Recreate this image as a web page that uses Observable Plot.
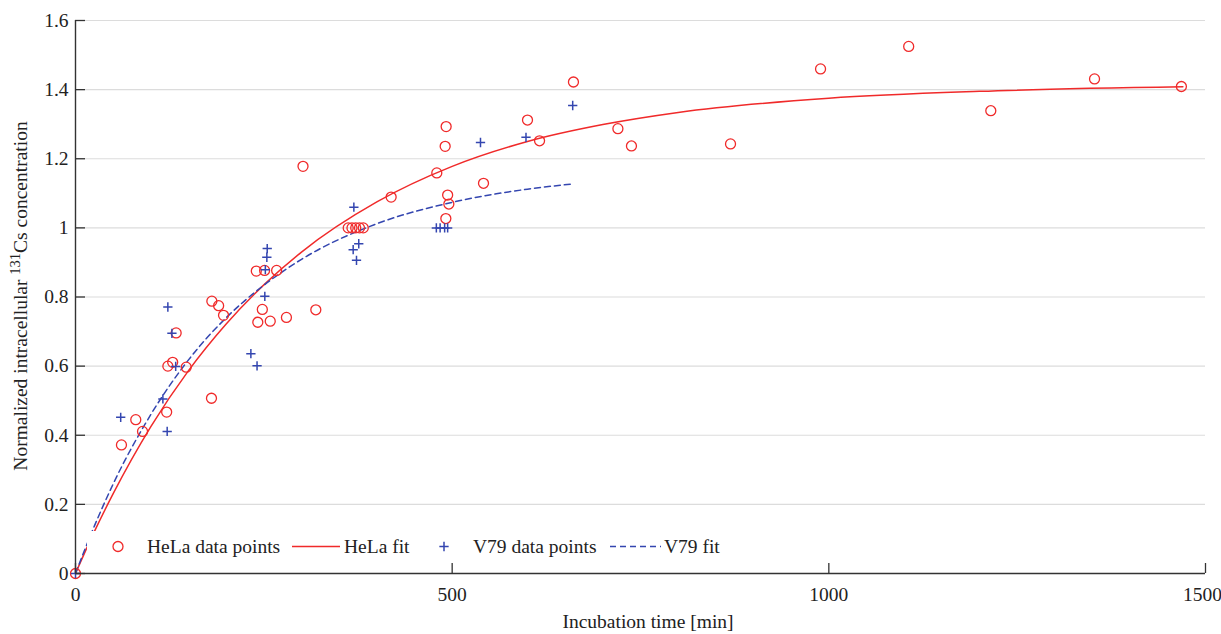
<!DOCTYPE html>
<html>
<head>
<meta charset="utf-8">
<script src="https://cdn.jsdelivr.net/npm/d3@7"></script>
<script src="https://cdn.jsdelivr.net/npm/@observablehq/plot@0.6"></script>
<style>
  html, body { margin: 0; padding: 0; background: #fff; }
  #wrap { position: relative; width: 1221px; height: 634px; font-family: "Liberation Serif", "Times New Roman", serif; }
  #legend { position: absolute; left: 87px; top: 531px; width: 643px; height: 31px; background: #fff; }
</style>
</head>
<body>
<div id="wrap"></div>
<script>
// ---- data ----
const helaTime = [0, 61, 80, 89, 121, 122.6, 129, 133.6, 147, 180.5, 181, 190, 196.5, 240, 242, 248, 251, 258.5, 267, 280, 302, 319, 362, 367, 372, 377, 382, 419, 479.6, 490.7, 491.6, 492, 494, 495.6, 541.6, 600, 616, 661, 720, 738, 869.5, 989, 1106, 1215, 1352.7, 1468];
const helaValue = [0, 0.372, 0.445, 0.411, 0.467, 0.600, 0.611, 0.696, 0.597, 0.507, 0.788, 0.775, 0.747, 0.875, 0.727, 0.764, 0.877, 0.730, 0.877, 0.741, 1.178, 0.763, 1, 1, 1, 1, 1, 1.089, 1.159, 1.236, 1.027, 1.293, 1.095, 1.069, 1.129, 1.312, 1.252, 1.422, 1.287, 1.237, 1.243, 1.460, 1.525, 1.339, 1.431, 1.409];

const v79Time = [0, 60, 116, 121.7, 122.6, 128, 133, 232.8, 241, 251.3, 252, 254, 254.5, 368.6, 369.5, 373, 376, 479, 484, 490, 494, 537.6, 598, 660];
const v79Value = [0, 0.452, 0.505, 0.411, 0.771, 0.695, 0.599, 0.636, 0.601, 0.802, 0.879, 0.915, 0.940, 0.937, 1.060, 0.906, 0.954, 1, 1, 1, 1, 1.247, 1.262, 1.354];

const helaFitTime = [0, 25, 50, 100, 150, 200, 250, 300, 400, 500, 600, 700, 800, 1000, 1200, 1470];
const helaFitValue = [0, 0.121, 0.231, 0.425, 0.587, 0.722, 0.835, 0.930, 1.075, 1.178, 1.250, 1.299, 1.334, 1.375, 1.395, 1.408];

const v79FitTime = [0, 25, 50, 100, 150, 200, 250, 300, 400, 500, 600, 660];
const v79FitValue = [0, 0.137, 0.259, 0.460, 0.618, 0.740, 0.834, 0.909, 1.012, 1.074, 1.112, 1.127];

const xTicks = [0, 500, 1000, 1500];
const yTicks = [0, 0.2, 0.4, 0.6, 0.8, 1, 1.2, 1.4, 1.6];
const yTickLabels = ["0", "0.2", "0.4", "0.6", "0.8", "1", "1.2", "1.4", "1.6"];

const legendLabels = ["HeLa data points", "HeLa fit", "V79 data points", "V79 fit"];

// ---- build ----
const RED = "#f02a2a";
const BLUE = "#3446b0";
const FS = "19.5px";
const PLUS_R = 3.1;
const CIRC_R = 5;

const hela = helaTime.map((t, i) => ({t, v: helaValue[i]}));
const v79 = v79Time.map((t, i) => ({t, v: v79Value[i]}));
const helaFit = helaFitTime.map((t, i) => ({t, v: helaFitValue[i]}));
const v79Fit = v79FitTime.map((t, i) => ({t, v: v79FitValue[i]}));

const xTicksInner = xTicks.slice(0, -1);
const xTicksLast = xTicks.slice(-1);

const chart = Plot.plot({
  width: 1221,
  height: 634,
  marginLeft: 75,
  marginRight: 16,
  marginTop: 20,
  marginBottom: 61,
  style: {fontFamily: "'Liberation Serif', 'Times New Roman', serif", fontSize: FS, background: "white", color: "#222"},
  x: {domain: [0, 1500], label: null},
  y: {domain: [0, 1.6], label: null},
  marks: [
    Plot.ruleY(yTicks.filter(d => d > 0), {stroke: "#dcdcdc", strokeWidth: 1.2}),
    Plot.axisY(yTicks, {tickSize: 0, tickPadding: 7, tickFormat: (d, i) => yTickLabels[i], fontSize: FS, fill: "#222"}),
    Plot.axisX(xTicksInner, {tickSize: 0, tickPadding: 14, tickFormat: d => String(d), fontSize: FS, fill: "#222"}),
    Plot.axisX(xTicksLast, {tickSize: 0, tickPadding: 14, tickFormat: d => String(d), fontSize: FS, fill: "#222", dx: -3}),
    Plot.axisY(yTicks, {tickSize: 10, text: null, dx: 10, stroke: "#333", strokeWidth: 1.3}),
    Plot.axisX(xTicks, {tickSize: 10, text: null, dy: -10, stroke: "#333", strokeWidth: 1.3}),
    Plot.line(helaFit, {x: "t", y: "v", stroke: RED, strokeWidth: 1.5, curve: "monotone-x"}),
    Plot.line(v79Fit, {x: "t", y: "v", stroke: BLUE, strokeWidth: 1.5, strokeDasharray: "6,4", curve: "monotone-x"}),
    Plot.dot(hela, {x: "t", y: "v", r: CIRC_R, stroke: RED, strokeWidth: 1.3, fill: "none"}),
    Plot.dot(v79, {x: "t", y: "v", r: PLUS_R, symbol: "plus", stroke: BLUE, strokeWidth: 1.5}),
    Plot.ruleX([0], {stroke: "#333", strokeWidth: 1.4}),
    Plot.ruleY([0], {stroke: "#333", strokeWidth: 1.4})
  ]
});

const wrap = document.getElementById("wrap");
wrap.appendChild(chart);

// axis titles
const svg = d3.select(chart);
const yl = svg.append("text")
  .attr("transform", "translate(27,296) rotate(-90)")
  .attr("text-anchor", "middle")
  .attr("font-size", FS)
  .attr("fill", "#222");
yl.append("tspan").text("Normalized intracellular ");
yl.append("tspan").attr("dy", -7).attr("font-size", "14.5px").text("131");
yl.append("tspan").attr("dy", 7).text("Cs concentration");

svg.append("text")
  .attr("x", 648).attr("y", 628)
  .attr("text-anchor", "middle")
  .attr("font-size", FS)
  .attr("fill", "#222")
  .text("Incubation time [min]");

// legend (white box over the plot area)
const leg = d3.select(wrap).append("div").attr("id", "legend");
const ls = leg.append("svg").attr("width", 643).attr("height", 31)
  .style("font-family", "'Liberation Serif', 'Times New Roman', serif");
ls.append("rect").attr("width", 643).attr("height", 31).attr("fill", "white");
const cy = 15.5;
ls.append("circle").attr("cx", 31).attr("cy", cy).attr("r", CIRC_R).attr("fill", "none").attr("stroke", RED).attr("stroke-width", 1.3);
ls.append("line").attr("x1", 205).attr("x2", 253).attr("y1", cy).attr("y2", cy).attr("stroke", RED).attr("stroke-width", 1.5);
ls.append("path").attr("d", d3.symbol(d3.symbolPlus, Math.PI * PLUS_R * PLUS_R)()).attr("transform", `translate(357,${cy})`).attr("fill", "none").attr("stroke", BLUE).attr("stroke-width", 1.5);
ls.append("line").attr("x1", 523).attr("x2", 574).attr("y1", cy).attr("y2", cy).attr("stroke", BLUE).attr("stroke-width", 1.5).attr("stroke-dasharray", "6,4");
const textX = [60, 257, 386, 577];
legendLabels.forEach((s, i) => {
  ls.append("text").attr("x", textX[i]).attr("y", cy).attr("dy", "0.35em")
    .attr("font-size", FS).attr("fill", "#222").text(s);
});
</script>
</body>
</html>
